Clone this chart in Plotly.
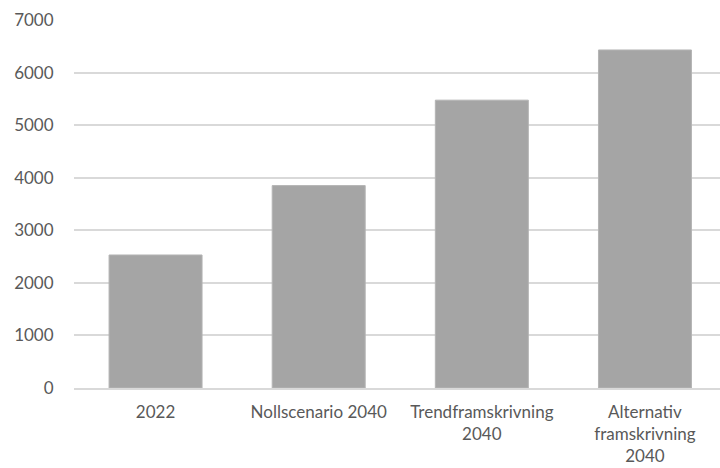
import plotly.graph_objects as go

categories = ["2022", "Nollscenario 2040", "Trendframskrivning<br>2040", "Alternativ<br>framskrivning<br>2040"]
values = [2530, 3850, 5475, 6430]
y_ticks = [0, 1000, 2000, 3000, 4000, 5000, 6000, 7000]

fig = go.Figure(go.Bar(
    x=list(range(len(categories))), y=values,
    marker=dict(color="#a5a5a5", line=dict(color="#b4b4b4", width=1)),
    width=0.57,
))

font = dict(family="Lato, Open Sans, sans-serif", size=17, color="#595959")
fig.update_layout(
    width=720, height=468,
    margin=dict(l=74, r=0, t=20, b=80),
    paper_bgcolor="white", plot_bgcolor="white",
    font=font, showlegend=False,
    xaxis=dict(tickmode="array", tickvals=list(range(len(categories))), ticktext=categories,
               range=[-0.5, 3.46], showgrid=False, showline=True, linecolor="#d9d9d9", linewidth=1.5,
               ticks="", tickfont=font, ticklabelstandoff=8),
    yaxis=dict(range=[0, 7000], tickvals=y_ticks, showgrid=True, gridcolor="#d9d9d9", gridwidth=1.5,
               zeroline=False, ticks="outside", ticklen=16, tickcolor="rgba(0,0,0,0)",
               tickfont=font, showline=False),
)
fig.write_html("out.html")
